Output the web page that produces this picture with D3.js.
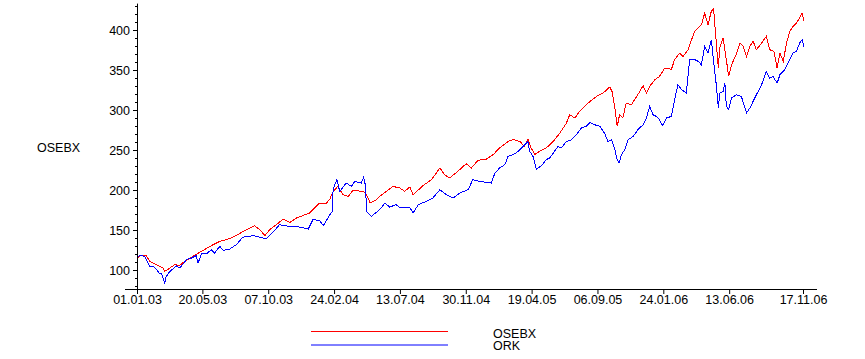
<!DOCTYPE html>
<html>
<head>
<meta charset="utf-8">
<script src="https://cdn.jsdelivr.net/npm/d3@7"></script>
<style>
    body { margin: 0; background: #fff; }
    svg { display: block; font-family: "Liberation Sans", Arial, sans-serif; font-size: 12.5px; }
</style>
</head>
<body>
<script>

// x tick labels (dd.mm.yy)
const tickLabels = ["01.01.03", "20.05.03", "07.10.03", "24.02.04", "13.07.04", "30.11.04",
    "19.04.05", "06.09.05", "24.01.06", "13.06.06", "17.11.06"];

// y ticks
const yMajor = [100, 150, 200, 250, 300, 350, 400];
const yMinor = d3.range(80, 431, 10);

// days after 01.01.03
const osebxDays = [1, 6, 20, 27, 41, 55, 59, 70, 80, 91, 101, 119, 133, 155, 176, 190, 204, 233, 250, 261,
    272, 282, 296, 311, 325, 339, 367, 388, 403, 410, 417, 427, 438, 449, 459, 481, 488, 496, 509,
    516, 544, 559, 569, 580, 587, 608, 626, 644, 654, 665, 686, 700, 711, 725, 743, 757, 771, 789, 800,
    814, 824, 831, 838, 846, 849, 856, 870, 885, 899, 913, 920, 931, 941, 952, 963, 977, 991, 1005, 1010,
    1016, 1021, 1026, 1033, 1040, 1051, 1058, 1069, 1076, 1083,
    1090, 1101, 1111, 1122, 1129, 1136, 1143, 1154, 1161, 1172, 1179, 1186, 1193, 1200, 1207, 1214, 1221,
    1226, 1230, 1236, 1239, 1246, 1253, 1258, 1264, 1274, 1282, 1289, 1296, 1303, 1310, 1317, 1328, 1338,
    1345, 1354, 1361, 1367, 1374, 1381, 1388, 1395, 1402, 1409, 1414, 1418];
const osebxValues = [115, 117.9, 118, 110.8, 106.6, 102.5, 98.3, 102.5, 106.6, 105.8, 110.8, 117, 122, 129.5,
    135.8, 137.9, 141, 150.4, 155.4, 150.4, 142.9, 150.4, 156.6, 163.7, 159.5, 165, 171.2, 183.7, 183.7,
    188.7, 198.3, 204.5, 194, 192, 199.5, 198.3, 194, 183.7, 187.9,
    192, 204.5, 202.5, 198.3, 203.7, 194, 205.4, 212.9, 227.5, 219.1, 215, 225.4, 232.9, 227.5, 237, 238.7,
    244.1, 252.5, 260.7, 263, 260.7, 254.5, 263.7, 252.5, 244.1, 246, 248.3, 252.5, 260.7, 271.2, 283.7,
    294.1, 290, 298.3, 304.5, 310.7, 317, 321.2, 328.7, 323.2, 302.5, 279.5, 294.1, 290, 308.7, 306.6,
    312.9, 323.2, 330.4, 321.2,
    329.5, 337.9, 342, 352.5, 352.5, 350.4, 362.9, 371.2, 367, 375.4, 387.9, 398.3, 402.5, 406.6, 421.2,
    406.6, 423.2, 426.2, 396.2, 352.5, 377.5, 390, 362.9, 342, 356.6, 369.1, 383.7, 379.5, 367, 379.5,
    385.8, 375.4, 383.7, 392, 375.4, 373.3, 352.5, 371.2, 360.8, 383.7, 398.3, 404.5, 408.7, 415, 421.2, 410.8];

const orkDays = [1, 6, 16, 27, 34, 41, 48, 52, 59, 62, 70, 84, 91, 105, 116, 126, 130, 137, 148, 158, 165,
    176, 183, 197, 211, 225, 247, 268, 275, 289, 303, 325, 346, 364, 374, 388, 396, 410, 415, 417, 425,
    431, 445, 456, 463, 477, 482, 486, 488, 498,
    516, 527, 537, 551, 559, 569, 580, 587, 598, 615, 629, 644, 658, 672, 686, 704, 714, 729, 743, 753,
    761, 771, 782, 789, 800, 810, 821, 831, 835, 842, 849, 860, 870, 877, 885, 895, 902, 913, 924, 934,
    945, 955, 963, 973, 984, 994, 1001, 1009, 1016, 1021, 1025, 1030, 1037, 1044, 1055, 1065, 1076, 1083,
    1090, 1097, 1104, 1111, 1117, 1126, 1136, 1143, 1150, 1158, 1168, 1175, 1186, 1193, 1200, 1207, 1214,
    1221, 1226, 1232, 1236, 1239, 1246, 1250, 1253, 1258, 1264, 1274, 1285, 1296, 1303, 1317, 1328, 1338,
    1345, 1352, 1361, 1367, 1377, 1384, 1395, 1402, 1409, 1414, 1418];
const orkValues = [115, 118.6, 117, 104.5, 105, 101, 95.4, 96, 83.7, 91.6, 98.3, 105, 102.5, 112.9, 115,
    117.9, 108.8, 120.4, 120.4, 125.4, 121.2, 129.5, 124.6, 126.2, 131.6, 141, 142.9, 140, 139, 147, 156.6,
    154.5, 153.7, 151.2, 162.9, 162, 155.4, 169.1, 173.2, 201.2, 212.9, 198.3, 208.7, 204.5, 210.8, 208.7,
    216.2, 204.5, 173.2, 167,
    175.4, 183.7, 178.7, 181.7, 178, 178, 178, 171.2, 181.7, 185.7, 190, 200.4, 194, 190, 196.2, 200.4,
    212.9, 210.8, 209.5, 208.7, 221.2, 227.5, 231.6, 242, 244.1, 248.3, 254.5, 260.7, 248.3, 242, 226.2,
    230.4, 237.9, 239.9, 246.2, 254.5, 252.5, 260.7, 262.9, 269.1, 277.5, 279.5, 284.5, 281.6, 279.5, 271.2,
    260.7, 262.9, 250.4, 237.9, 233.7, 244.1, 250.4, 262.9, 267, 275.4, 281.6, 290,
    304.5, 294.1, 292, 287.9, 280.4, 290, 292, 312.9, 331.6, 325.4, 321.2, 362.9, 362.9, 360.8, 356.6,
    379.5, 371.2, 387.9, 360.8, 329.5, 302.5, 321.2, 323.2, 333.7, 304.5, 300.4, 315, 319.1, 317, 296.2,
    302.5, 319.1, 331.6, 348.3, 340, 342, 333.7, 344.1, 350.4, 358.7, 371.2, 373.3, 383.7, 387.9, 379.5];

const seriesNames = ["OSEBX", "ORK"];
const seriesColors = ["#ff0000", "#0000ff"];

const width = 865, height = 359;
const parseDate = d3.timeParse("%d.%m.%y");
const startDate = parseDate(tickLabels[0]);
const tickDates = tickLabels.map(parseDate);

const svg = d3.select("body").append("svg")
    .attr("width", width)
    .attr("height", height);

// scales
const x = d3.scaleTime()
    .domain([startDate, tickDates[tickDates.length - 1]])
    .range([137, 803]);

const y = d3.scaleLinear()
    .domain([100, 400])
    .range([270, 30]);

// build the series
const series = [
    osebxDays.map((d, i) => ({date: d3.timeDay.offset(startDate, d), value: osebxValues[i]})),
    orkDays.map((d, i) => ({date: d3.timeDay.offset(startDate, d), value: orkValues[i]}))
];

const line = d3.line()
    .x(d => x(d.date))
    .y(d => y(d.value));

// the original has hard, non smoothed pixel lines
svg.append("g")
    .selectAll("path")
    .data(series)
    .enter().append("path")
    .attr("d", line)
    .attr("fill", "none")
    .attr("stroke", (d, i) => seriesColors[i])
    .attr("stroke-width", 1)
    .attr("shape-rendering", "crispEdges");

// axis lines
svg.append("line")
    .attr("x1", 125).attr("x2", 817)
    .attr("y1", 289.5).attr("y2", 289.5)
    .attr("stroke", "#000");
svg.append("line")
    .attr("x1", 137.5).attr("x2", 137.5)
    .attr("y1", y(433)).attr("y2", 291)
    .attr("stroke", "#000");

// y axis, minor ticks then major ticks with labels
const yMinorAxis = svg.append("g")
    .attr("transform", "translate(137,0)")
    .call(d3.axisLeft(y).tickValues(yMinor.filter(v => yMajor.indexOf(v) < 0)).tickSize(2).tickFormat(""));
yMinorAxis.select(".domain").remove();

const yAxis = svg.append("g")
    .attr("transform", "translate(137,0)")
    .call(d3.axisLeft(y).tickValues(yMajor).tickSize(4).tickPadding(3));
yAxis.select(".domain").remove();
yAxis.selectAll("text")
    .attr("fill", "#000")
    .style("font-size", "12.5px")
    .style("font-family", "'Liberation Sans', Arial, sans-serif");

// x axis, ticks point down into the labels
const xAxis = svg.append("g")
    .attr("transform", "translate(0,289)")
    .call(d3.axisBottom(x).tickValues(tickDates).tickSize(5).tickPadding(1)
        .tickFormat((d, i) => tickLabels[i]));
xAxis.select(".domain").remove();
xAxis.selectAll("text")
    .attr("fill", "#000")
    .style("font-size", "12.5px")
    .style("font-family", "'Liberation Sans', Arial, sans-serif");

// y title
svg.append("text")
    .attr("x", 37)
    .attr("y", 151.5)
    .text("OSEBX");

// legend
const legend = svg.append("g")
    .selectAll("g")
    .data(seriesNames)
    .enter().append("g");

legend.append("line")
    .attr("x1", 311).attr("x2", 448)
    .attr("y1", (d, i) => 331.5 + i * 13.5)
    .attr("y2", (d, i) => 331.5 + i * 13.5)
    .attr("stroke", (d, i) => seriesColors[i]);

legend.append("text")
    .attr("x", 493)
    .attr("y", (d, i) => 337.5 + i * 12.5)
    .text(d => d);

</script>
</body>
</html>
